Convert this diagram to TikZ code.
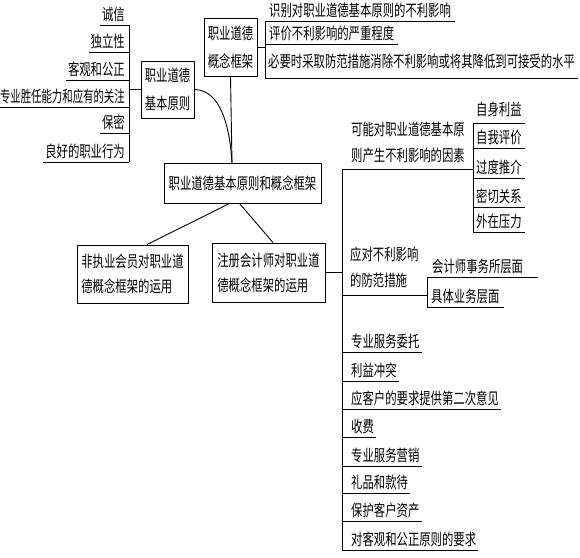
\documentclass[tikz,border=0pt]{standalone}
\usepackage{fontspec}
\newfontfamily\cjk[FakeStretch=0.71]{Noto Sans CJK SC}
\newfontfamily\cjknarrow[FakeStretch=0.65]{Noto Sans CJK SC}
\begin{document}
\begin{tikzpicture}[x=1pt,y=-1pt,
  every node/.style={font=\cjk\fontsize{16}{28}\selectfont},
  box/.style={draw, line width=0.9pt, inner sep=0pt, align=center},
  item/.style={inner xsep=2pt, inner ysep=3pt},
  multi/.style={inner xsep=0pt, inner ysep=5pt, align=left},
  ln/.style={line width=0.9pt},
]
\useasboundingbox (0,0) rectangle (580,557);

% ---------- boxes ----------
\node[box, minimum width=53pt, minimum height=57pt] (prin) at (167.5,89.5) {职业道德\\基本原则};
\node[box, minimum width=53pt, minimum height=58pt] (concept) at (230.5,47) {职业道德\\概念框架};
\node[box, minimum width=157pt, minimum height=40pt] (center) at (242.5,183) {职业道德基本原则和概念框架};
\node[box, minimum width=111pt, minimum height=58pt, align=left, font=\cjk\fontsize{16}{25}\selectfont] (lbox) at (132.5,274) {非执业会员对职业道\\德概念框架的运用};
\node[box, minimum width=113pt, minimum height=59pt, align=left, font=\cjk\fontsize{16}{25}\selectfont] (rbox) at (268.5,272.5) {注册会计师对职业道\\德概念框架的运用};

% ---------- left column ----------
\coordinate (lb) at (129,0);
\node[item, anchor=south east] (c1) at (127,25) {诚信};
\node[item, anchor=south east] (c2) at (127,52) {独立性};
\node[item, anchor=south east] (c3) at (127,80) {客观和公正};
\node[item, anchor=south east, font=\cjknarrow\fontsize{16}{28}\selectfont] (c4) at (127,107) {专业胜任能力和应有的关注};
\node[item, anchor=south east] (c5) at (127,133) {保密};
\node[item, anchor=south east] (c6) at (127,162) {良好的职业行为};
\foreach \n in {c1,c2,c3,c4,c5,c6} \draw[ln] (\n.south west) -- (\n.south west -| lb);
\draw[ln] (c1.south -| lb) -- (c6.south -| lb);
\draw[ln] (prin.west) -- (prin.west -| lb);

% ---------- top right (concept framework) ----------
\coordinate (rb) at (265,0);
\node[item, anchor=south west, inner xsep=4pt] (t1) at (265,21) {识别对职业道德基本原则的不利影响};
\node[item, anchor=south west, inner xsep=4pt] (t2) at (265,44) {评价不利影响的严重程度};
\node[item, anchor=south west, inner xsep=3pt, inner ysep=9pt] (t3) at (265,78) {必要时采取防范措施消除不利影响或将其降低到可接受的水平};
\foreach \n in {t1,t2,t3} \draw[ln] (\n.south -| rb) -- (\n.south east);
\draw[ln] (t1.south -| rb) -- (t3.south -| rb);
\draw[ln] (concept.east) -- (concept.east -| rb);

% ---------- center connections ----------
\coordinate (ctop) at (232,163);
\draw[ln] (prin.east) .. controls (222,90) and (230,130) .. (ctop);
\draw[ln] (concept.south) -- (ctop);
\draw[ln] ([xshift=-13pt]center.south) -- ([xshift=14.5pt]lbox.north);
\draw[ln] ([xshift=-3pt]center.south) -- ([xshift=4.5pt]rbox.north);

% ---------- right trunk ----------
\coordinate (trunk) at (342,0);
\coordinate (trunktop) at (342,169);
\coordinate (trunkbot) at (342,550);
\draw[ln] (trunktop) -- (trunkbot);
\draw[ln] (rbox.east) -- (rbox.east -| trunk);

% factors
\coordinate (fb) at (473,0);
\node[multi, anchor=south west, inner ysep=6pt, font=\cjk\fontsize{16}{26}\selectfont] (f0) at (351,169) {可能对职业道德基本原\\则产生不利影响的因素};
\draw[ln] (trunktop) -- (trunktop -| fb);
\node[item, anchor=south west, inner xsep=3pt, inner ysep=6pt] (f1) at (473,123) {自身利益};
\node[item, anchor=south west, inner xsep=3pt] (f2) at (473,148) {自我评价};
\node[item, anchor=south west, inner xsep=3pt] (f3) at (473,178) {过度推介};
\node[item, anchor=south west, inner xsep=3pt] (f4) at (473,207) {密切关系};
\node[item, anchor=south west, inner xsep=3pt] (f5) at (473,232) {外在压力};
\foreach \n in {f1,f2,f3,f4,f5} \draw[ln] (\n.south -| fb) -- (\n.south east);
\draw[ln] (f1.south -| fb) -- (f5.south -| fb);

% countermeasures
\coordinate (gb) at (427,0);
\coordinate (gline) at (342,295);
\node[multi, anchor=south west, inner ysep=7pt, font=\cjk\fontsize{16}{26}\selectfont] (g0) at (350,295) {应对不利影响\\的防范措施};
\draw[ln] (gline) -- (gline -| gb);
\node[item, anchor=south west, inner xsep=5pt] (g1) at (427,277) {会计师事务所层面};
\node[item, anchor=south west, inner xsep=4pt] (g2) at (427,307) {具体业务层面};
\draw[ln] (g1.south -| gb) -- ([xshift=10pt]g1.south east);
\draw[ln] (g2.south -| gb) -- (g2.south east);
\draw[ln] (g1.south -| gb) -- (g2.south -| gb);

% list
\node[item, anchor=south west] (h1) at (349,352) {专业服务委托};
\node[item, anchor=south west] (h2) at (349,381) {利益冲突};
\node[item, anchor=south west] (h3) at (349,409) {应客户的要求提供第二次意见};
\node[item, anchor=south west] (h4) at (349,437) {收费};
\node[item, anchor=south west] (h5) at (349,466) {专业服务营销};
\node[item, anchor=south west] (h6) at (349,493) {礼品和款待};
\node[item, anchor=south west] (h7) at (349,521) {保护客户资产};
\node[item, anchor=south west] (h8) at (349,550) {对客观和公正原则的要求};
\foreach \n in {h1,h2,h3,h4,h5,h6,h7,h8} \draw[ln] (\n.south -| trunk) -- (\n.south east);
\end{tikzpicture}
\end{document}
